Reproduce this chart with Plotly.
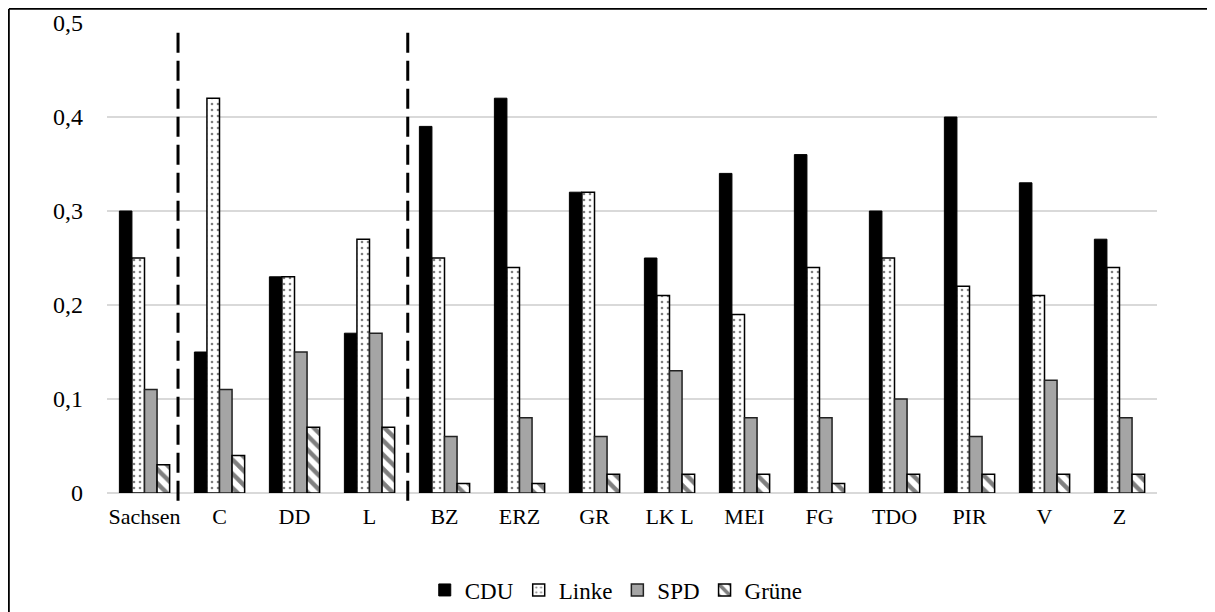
import plotly.graph_objects as go

categories = ["Sachsen", "C", "DD", "L", "BZ", "ERZ", "GR", "LK L", "MEI", "FG", "TDO", "PIR", "V", "Z"]
cdu   = [0.30, 0.15, 0.23, 0.17, 0.39, 0.42, 0.32, 0.25, 0.34, 0.36, 0.30, 0.40, 0.33, 0.27]
linke = [0.25, 0.42, 0.23, 0.27, 0.25, 0.24, 0.32, 0.21, 0.19, 0.24, 0.25, 0.22, 0.21, 0.24]
spd   = [0.11, 0.11, 0.15, 0.17, 0.06, 0.08, 0.06, 0.13, 0.08, 0.08, 0.10, 0.06, 0.12, 0.08]
gruene = [0.03, 0.04, 0.07, 0.07, 0.01, 0.01, 0.02, 0.02, 0.02, 0.01, 0.02, 0.02, 0.02, 0.02]
y_ticks = [0, 0.1, 0.2, 0.3, 0.4, 0.5]
y_tick_labels = ["0", "0,1", "0,2", "0,3", "0,4", "0,5"]
separators_after = [0, 3]  # dashed dividers after these category indices

FONT = "Liberation Serif, Times New Roman, serif"
W, H = 1215, 612
ML, MR, MT, MB = 99, 66, 15, 127

fig = go.Figure()
fig.add_trace(go.Bar(name="CDU", x=categories, y=cdu,
                     marker=dict(color="black", line=dict(color="black", width=1))))
fig.add_trace(go.Bar(name="Linke", x=categories, y=linke,
                     marker=dict(color="white", line=dict(color="black", width=1.5),
                                 pattern=dict(shape=".", fgcolor="black", bgcolor="white",
                                              size=6, solidity=0.15))))
fig.add_trace(go.Bar(name="SPD", x=categories, y=spd,
                     marker=dict(color="#a5a5a5", line=dict(color="#222222", width=1.5))))
fig.add_trace(go.Bar(name="Grüne", x=categories, y=gruene,
                     marker=dict(color="white", line=dict(color="black", width=1.5),
                                 pattern=dict(shape="\\", fgcolor="black", bgcolor="white",
                                              size=10, solidity=0.45))))

n = len(categories)
pw = W - ML - MR
ph = H - MT - MB
shapes = []
offsets = [-0.053, 0.01]
for k, idx in enumerate(separators_after):
    xp = (idx + 1 + offsets[k]) / n
    shapes.append(dict(type="line", xref="paper", yref="paper", x0=xp, x1=xp,
                       y0=0.979, y1=-0.026,
                       line=dict(color="black", width=3, dash="20px,8px")))
# outer frame (left and top edges of the figure)
fx = (0.9 - ML) / pw
fy = (H - MB - 0.9) / ph
shapes.append(dict(type="line", xref="paper", yref="paper",
                   x0=fx, x1=fx, y0=fy, y1=-0.3, line=dict(color="black", width=1.8)))
shapes.append(dict(type="line", xref="paper", yref="paper",
                   x0=fx, x1=1.1, y0=fy, y1=fy, line=dict(color="black", width=1.8)))

fig.update_layout(
    width=W, height=H,
    margin=dict(l=ML, r=MR, t=MT, b=MB, autoexpand=False),
    paper_bgcolor="white", plot_bgcolor="white",
    barmode="group", bargap=0.33, bargroupgap=0,
    font=dict(family=FONT, size=22, color="black"),
    separators=",.",
    showlegend=True,
    legend=dict(orientation="h", x=0.485, xanchor="center", y=(H - MB - 582) / ph,
                yanchor="middle", font=dict(family=FONT, size=23),
                itemwidth=30, tracegroupgap=0),
    shapes=shapes,
)
fig.update_xaxes(type="category", showgrid=False, showline=False, zeroline=False,
                 automargin=False,
                 ticks="", ticklabelstandoff=8, tickfont=dict(size=22))
fig.update_yaxes(range=[0, 0.5], tickvals=y_ticks, ticktext=y_tick_labels,
                 automargin=False,
                 showgrid=True, gridcolor="#d9d9d9", gridwidth=1.5,
                 zeroline=True, zerolinecolor="#d9d9d9", zerolinewidth=1.5,
                 showline=False, ticks="", ticklabelstandoff=23,
                 tickfont=dict(size=24))

fig.write_html("out.html")
